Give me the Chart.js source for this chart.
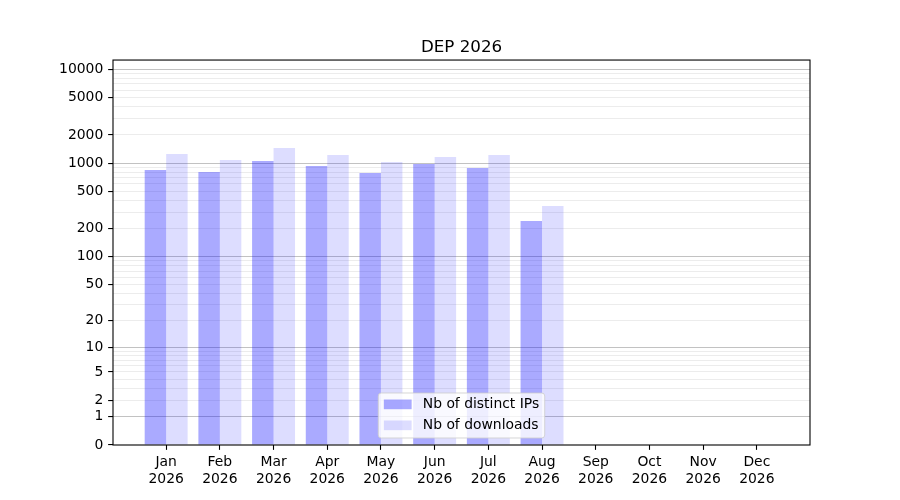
<!DOCTYPE html>
<html>
<head>
<meta charset="utf-8">
<script src="https://cdn.jsdelivr.net/npm/chart.js@4"></script>
<style>
  html, body { margin: 0; padding: 0; background: #fff; }
  #wrap { width: 900px; height: 500px; }
</style>
</head>
<body>
<div id="wrap"><canvas id="depChart" width="900" height="500"></canvas></div>
<script>
const months = ["Jan", "Feb", "Mar", "Apr", "May", "Jun", "Jul", "Aug", "Sep", "Oct", "Nov", "Dec"];
const year = "2026";
const distinctIps = [847, 806, 1056, 934, 787, 981, 889, 242, 0, 0, 0, 0];
const downloads = [1254, 1082, 1453, 1223, 1030, 1165, 1223, 350, 0, 0, 0, 0];

const yTickLabels = [0, 1, 2, 5, 10, 20, 50, 100, 200, 500, 1000, 2000, 5000, 10000];
const yMajorGrid = [1, 10, 100, 1000, 10000];
const yMinorGrid = [2, 3, 4, 5, 6, 7, 8, 9,
    20, 30, 40, 50, 60, 70, 80, 90,
    200, 300, 400, 500, 600, 700, 800, 900,
    2000, 3000, 4000, 5000, 6000, 7000, 8000, 9000];

const fontSize = 13.9;
const tickLen = 4.86;

// y axis is log10(1 + v)
class Log1pScale extends Chart.Scale {
    static id = "log1p";
    static defaults = {};

    determineDataLimits() {
        const { min, max } = this.getMinMax(true);
        this.min = Number.isFinite(this.options.min) ? this.options.min : Math.max(0, min);
        this.max = Number.isFinite(this.options.max) ? this.options.max : max;
    }
    buildTicks() {
        const vals = [0].concat(yMajorGrid, yMinorGrid).sort((a, b) => a - b);
        return vals.filter(v => v >= this.min && v <= this.max).map(v => ({ value: v }));
    }
    configure() {
        super.configure();
        this._startValue = Math.log10(1 + this.min);
        this._valueRange = Math.log10(1 + this.max) - this._startValue;
    }
    getLabelForValue(value) {
        return String(value);
    }
    getPixelForValue(value) {
        if (value === undefined || value === null || isNaN(value)) return NaN;
        return this.getPixelForDecimal((Math.log10(1 + value) - this._startValue) / this._valueRange);
    }
    getValueForPixel(pixel) {
        const d = this.getDecimalForPixel(pixel);
        return Math.pow(10, this._startValue + d * this._valueRange) - 1;
    }
}
Chart.register(Log1pScale);

const frameAndLegend = {
    id: "frameAndLegend",
    afterDraw(chart) {
        const { ctx, chartArea } = chart;
        ctx.save();
        ctx.strokeStyle = "#000";
        ctx.lineWidth = 1.1;
        ctx.strokeRect(chartArea.left, chartArea.top, chartArea.right - chartArea.left, chartArea.bottom - chartArea.top);

        ctx.font = fontSize + "px 'DejaVu Sans'";
        const sets = chart.data.datasets;
        const textW = Math.max(...sets.map(d => ctx.measureText(d.label).width));
        const w = fontSize * (0.4 * 2 + 2 + 0.8) + textW;
        const h = 45;
        const x = (chartArea.left + chartArea.right) / 2 - w / 2;
        const y = chartArea.bottom - 7 - h;
        ctx.beginPath();
        ctx.roundRect(x, y, w, h, 3);
        ctx.fillStyle = "rgba(255,255,255,0.8)";
        ctx.fill();
        ctx.strokeStyle = "rgba(204,204,204,0.8)";
        ctx.lineWidth = 1;
        ctx.stroke();

        ctx.textBaseline = "middle";
        ctx.textAlign = "left";
        sets.forEach((d, i) => {
            const cy = y + 11.5 + i * 21;
            ctx.fillStyle = d.backgroundColor;
            ctx.fillRect(x + fontSize * 0.4, cy - 5, fontSize * 2, 9.7);
            ctx.fillStyle = "#000";
            ctx.fillText(d.label, x + fontSize * 3.2, cy);
        });
        ctx.restore();
    }
};

Chart.defaults.font.family = "'DejaVu Sans'";
Chart.defaults.font.size = fontSize;
Chart.defaults.color = "#000";

new Chart("depChart", {
    type: "bar",
    data: {
        datasets: [{
            label: "Nb of distinct IPs",
            backgroundColor: "rgba(0,0,255,0.333)",
            data: months.map((m, i) => ({ x: i, y: distinctIps[i] }))
        }, {
            label: "Nb of downloads",
            backgroundColor: "rgba(0,0,255,0.133)",
            data: months.map((m, i) => ({ x: i, y: downloads[i] }))
        }]
    },
    options: {
        responsive: false,
        animation: false,
        categoryPercentage: 0.8,
        barPercentage: 1.0,
        layout: { padding: { right: 90, top: 0, left: 0, bottom: 0 } },
        plugins: {
            legend: { display: false },
            tooltip: { enabled: false },
            title: {
                display: true,
                text: "DEP 2026",
                fullSize: false,
                font: { size: 16.7, weight: "normal" },
                color: "#000",
                padding: { top: 38, bottom: 2 }
            }
        },
        scales: {
            x: {
                type: "linear",
                min: -0.99,
                max: 11.99,
                bounds: "data",
                offset: false,
                afterBuildTicks: axis => { axis.ticks = months.map((m, i) => ({ value: i })); },
                afterFit: axis => { axis.height = 55; },
                ticks: {
                    autoSkip: false,
                    maxRotation: 0,
                    padding: 4.3,
                    callback: v => [months[v], year]
                },
                grid: {
                    offset: false,
                    drawOnChartArea: false,
                    tickLength: tickLen,
                    tickColor: "#000",
                    tickWidth: 1.1
                },
                border: { display: false }
            },
            y: {
                type: "log1p",
                min: 0,
                max: 12560,
                afterFit: axis => { axis.width = 113; },
                ticks: {
                    autoSkip: false,
                    padding: 4.86,
                    callback: v => yTickLabels.includes(v) ? String(v) : ""
                },
                grid: {
                    lineWidth: 1.1,
                    tickLength: tickLen,
                    tickWidth: 1.1,
                    color: c => c.tick.value === 0 ? "rgba(0,0,0,0)" :
                        (yMajorGrid.includes(c.tick.value) ? "rgba(0,0,0,0.24)" : "rgba(0,0,0,0.075)"),
                    tickColor: c => yTickLabels.includes(c.tick.value) ? "#000" : "rgba(0,0,0,0)"
                },
                border: { display: false }
            }
        }
    },
    plugins: [frameAndLegend]
});
</script>
</body>
</html>
